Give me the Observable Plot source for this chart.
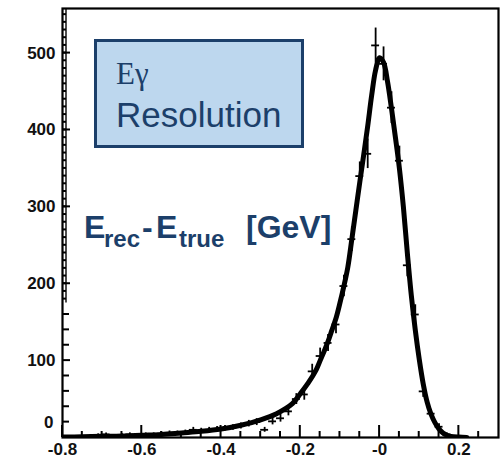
<!DOCTYPE html>
<html><head><meta charset="utf-8">
<script src="https://cdn.jsdelivr.net/npm/d3@7"></script>
<script src="https://cdn.jsdelivr.net/npm/@observablehq/plot@0.6"></script>
<style>
body{margin:0;background:#fff;}
#wrap{position:relative;width:503px;height:460px;overflow:hidden;background:#fff;}
#wrap svg{position:absolute;left:0;top:0;}
</style></head><body>
<div id="wrap"></div>
<script>
// Histogram (bin width 0.02): bin centres and counts
const binCenters = [-0.79,-0.77,-0.75,-0.73,-0.71,-0.69,-0.67,-0.65,-0.63,-0.61,
  -0.59,-0.57,-0.55,-0.53,-0.51,-0.49,-0.47,-0.45,-0.43,-0.41,
  -0.39,-0.37,-0.35,-0.33,-0.31,-0.29,-0.27,-0.25,-0.23,-0.21,
  -0.19,-0.17,-0.15,-0.13,-0.11,-0.09,-0.07,-0.05,-0.03,-0.01,
  0.01,0.03,0.05,0.07,0.09,0.11,0.13,0.15,0.17,0.19,
  0.21,0.23,0.25,0.27,0.29];
const counts = [0,1,1,2,3,4,2,3,4,3,
  4,4,5,6,6,7,10,9,10,11,
  12,13,15,18,20,10,21,25,34,50,
  56,86,106,123,147,197,258,340,369,510,
  486,429,360,224,160,60,31,14,4,1,
  1,0,0,0,0];
// Fitted curve
const fitX = [-0.8,-0.75,-0.7,-0.65,-0.6,-0.55,-0.5,-0.45,-0.4,-0.35,-0.3,-0.26,-0.22,-0.2,-0.18,-0.16,-0.15,-0.14,-0.13,-0.12,-0.11,-0.1,-0.09,-0.08,-0.07,-0.06,-0.05,-0.04,-0.03,-0.02,-0.01,0,0.01,0.02,0.03,0.04,0.05,0.06,0.07,0.08,0.09,0.1,0.11,0.12,0.13,0.14,0.15,0.16,0.17,0.18,0.2,0.22];
const fitY = [0.5,1,1.5,2,3,4,6,8,11,16,23,31,44,57,71,88,100,112,125,140,155,175,197,222,258,295,332,368,405,445,478,494,488,463,428,390,350,300,240,185,140,102,70,46,30,19,11,6,3,1.5,0.5,0];
// Axes
const xMajorTicks = [-0.8,-0.6,-0.4,-0.2,0,0.2];
const xTickLabels = ["-0.8","-0.6","-0.4","-0.2","-0","0.2"];
const xMinorTicks = [-0.75,-0.7,-0.65,-0.55,-0.5,-0.45,-0.35,-0.3,-0.25,-0.15,-0.1,-0.05,0.05,0.1,0.15,0.25];
const yMajorTicks = [100,200,300,400,500];
const yTickLabels = ["100","200","300","400","500"];
const yMinorTicks = [20,40,60,80,120,140,160];
const yDenseTicks = d3.range(180, 560, 10);
const yDenseFrom = 175;
const xDomain = [-0.8, 0.3];
const yDomain = [0, 558];

const halfBin = 0.01;
const bins = binCenters.map((x, i) => ({x, n: counts[i], e: Math.sqrt(counts[i])})).filter(d => d.n > 0);
const fit = fitX.map((x, i) => ({x, y: fitY[i]}));

const W = 503, H = 460, mL = 62, mR = 5, mT = 8, mB = 23;
const lbl = {fontSize: 17, fontWeight: "bold", fill: "#111"};

const chart = Plot.plot({
  width: W, height: H, marginLeft: mL, marginRight: mR, marginTop: mT, marginBottom: mB,
  x: {domain: xDomain, label: null}, y: {domain: yDomain, label: null},
  style: {background: "transparent", fontFamily: "Liberation Sans, Arial, sans-serif"},
  marks: [
    Plot.ruleX(bins, {x: "x", y1: d => d.n - d.e, y2: d => d.n + d.e, stroke: "black", strokeWidth: 1.8, clip: true}),
    Plot.ruleY(bins, {y: "n", x1: d => d.x - halfBin, x2: d => d.x + halfBin, stroke: "black", strokeWidth: 1.8, clip: true}),
    Plot.line(fit, {x: "x", y: "y", stroke: "black", strokeWidth: 5, curve: "catmull-rom", clip: true}),
    Plot.frame({stroke: "black", strokeWidth: 2.2}),
    Plot.axisX(xMajorTicks, {tickSize: 0, tickPadding: 5, label: null, tickFormat: d => xTickLabels[xMajorTicks.indexOf(d)], ...lbl}),
    Plot.axisY(yMajorTicks, {tickSize: 0, tickPadding: 7, label: null, tickFormat: d => yTickLabels[yMajorTicks.indexOf(d)], ...lbl}),
    Plot.axisY([0], {tickSize: 0, tickPadding: 9, dy: -15, label: null, tickFormat: d => "0", ...lbl})
  ]
});
const wrap = document.getElementById("wrap");
wrap.appendChild(chart);

const ns = "http://www.w3.org/2000/svg";
const ann = document.createElementNS(ns, "svg");
ann.setAttribute("width", W); ann.setAttribute("height", H);
ann.innerHTML = `
<rect x="95.5" y="40.5" width="207" height="106" fill="#bdd7ee" stroke="#1c3f6a" stroke-width="3"/>
<text x="116" y="84" font-family="Liberation Serif, serif" font-size="31" fill="#1c3f6a">Eγ</text>
<text x="116" y="127" font-family="Liberation Sans, Arial, sans-serif" font-size="35" fill="#1c3f6a">Resolution</text>
<text y="238" font-family="Liberation Sans, Arial, sans-serif" font-weight="bold" font-size="32" fill="#1c3f6a"><tspan x="84">E</tspan><tspan x="104" y="247" font-size="24">rec</tspan><tspan x="142" y="238">-</tspan><tspan x="156">E</tspan><tspan x="179" y="247" font-size="24">true</tspan><tspan x="246" y="238">[GeV]</tspan></text>`;
wrap.appendChild(ann);

// Inward ticks, placed with the chart's own x and y scales
const sx = chart.scale("x"), sy = chart.scale("y");
const X = v => sx.apply(v), Y = v => sy.apply(v);
const x0 = X(xDomain[0]), y0 = Y(yDomain[0]);
const g = d3.select(ann).append("g").attr("stroke", "black").attr("stroke-width", 2);
const xt = (ticks, len) => ticks.forEach(v => g.append("line").attr("x1", X(v)).attr("x2", X(v)).attr("y1", y0).attr("y2", y0 - len));
const yt = (ticks, len) => ticks.forEach(v => g.append("line").attr("x1", x0).attr("x2", x0 + len).attr("y1", Y(v)).attr("y2", Y(v)));
xt(xMinorTicks, 6);
xt(xMajorTicks, 12);
yt(yMinorTicks, 7);
yt(yMajorTicks, 8);
yt(yDenseTicks, 4);
g.append("line").attr("x1", x0 + 4).attr("x2", x0 + 4).attr("y1", Y(yDenseFrom)).attr("y2", Y(yDomain[1])).attr("stroke-width", 1.4);
</script>
</body></html>
